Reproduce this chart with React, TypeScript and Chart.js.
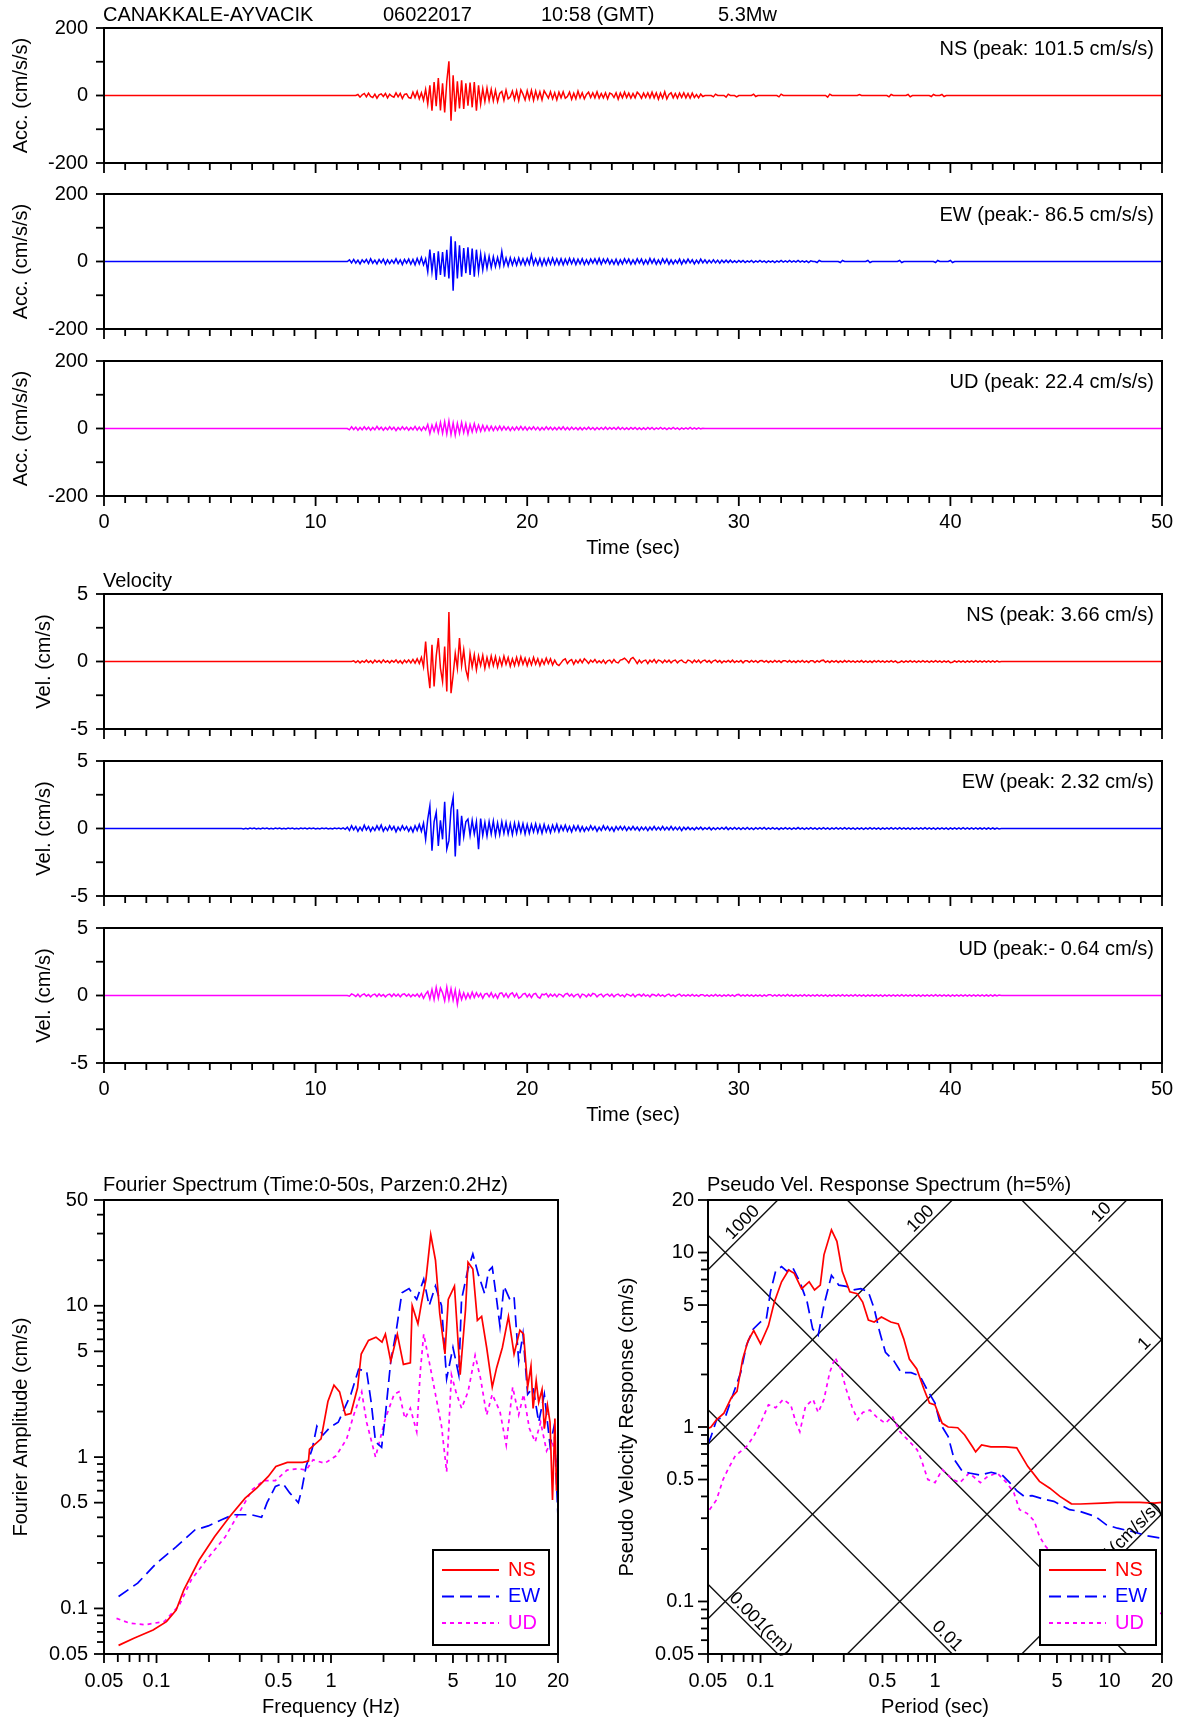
import React, { useEffect, useRef } from 'react';
import { Chart, registerables } from 'chart.js';

Chart.register(...registerables);

const FONT = '"Liberation Sans", Arial, Helvetica, sans-serif';
const INK = '#000000';
const RED = '#ff0000';
const BLUE = '#0000ff';
const MAGENTA = '#ff00ff';

// ---------------- time axis ----------------
const sampleStep = 0.1;
const timeTickLabels = [0, 10, 20, 30, 40, 50];
const timeMinorTicks = Array.from({ length: 49 }, (_, i) => i + 1).filter((t) => t % 10 !== 0);

// ---------------- acceleration (cm/s/s) ----------------
const accNsStart = 11.5;
const accNsValues = [
  0, 0, 0, 0, 0, 3, -5, 2, 6, -4,
  7, -3, -6, 4, -8, 2, 5, -3, 6, -7,
  4, -2, -5, 8, -4, 6, -9, 3, 5, -6,
  -8, 10, -6, 12, -10, 8, -14, 18, -25, 30,
  -45, 40, -32, 52, -44, 36, -50, 42, 101.5, -75,
  60, -48, 42, -38, 45, -40, 36, -30, 38, -35,
  40, -45, 30, -25, 20, -18, 22, -15, 18, -16,
  15, -18, 6, 12, -14, 16, -10, -4, 13, -12,
  14, -15, 17, 4, -13, 14, -11, 15, -14, 13,
  -10, 11, -13, 14, 3, -8, 11, -10, 8, -13,
  10, -7, 11, -8, -3, 10, -11, 7, -10, 13,
  -7, 8, -10, 3, 10, -6, 8, -7, 11, -8,
  6, -7, 8, -10, 7, 4, -6, 8, -11, 7,
  -7, 10, -6, 7, -8, 6, -7, 10, 3, -8,
  7, -6, 8, -7, 10, -7, 8, -11, 7, -8,
  11, -10, 3, 8, -7, 6, -8, 7, -6, 8,
  -7, 6, -8, 7, -6, 3, -7, 4, -3, 0,
  0, 0, 0, -4, 4, 0, 0, 0, 0, -5,
  4, 0, 0, 0, -4, 0, 0, 0, 0, 0,
  0, 0, 4, -3, 0, 0, 0, 0, 0, 0,
  0, 0, 0, 0, -4, 4, 0, 0, 0, 0,
  0, 0, 0, 0, 0, 0, 0, 0, 0, 0,
  0, 0, 0, 0, 0, 0, 0, -5, 4, 0,
  0, 0, 0, 0, 0, 0, 0, 0, 0, 0,
  0, 0, 3, 0, 0, 0, 0, 0, 0, 0,
  0, 0, 0, 0, 0, 0, -4, 3, 0, 0,
  0, 0, 0, 0, 0, 3, -4, 0, 0, 0,
  0, 0, 0, 0, 0, 0, -3, 3, 0, 0,
  0, 3, -3, 0, 0, 0, 0, 0, 0, 0,
];
const accEwStart = 11.5;
const accEwValues = [
  0, 5, -4, 6, -5, 4, -7, 5, -3, 6,
  -6, 8, -5, 4, -7, 6, -4, 7, -8, 5,
  -6, 4, -5, 8, -6, 5, -9, 6, -5, 7,
  -8, 6, -10, 9, -7, 12, -10, 8, -30, 35,
  -30, 25, -55, 30, -40, 28, -45, 35, -50, 75,
  -86.5, 60, -50, 48, -45, 40, -35, 42, -40, 38,
  -45, 35, -30, 22, -25, 18, -20, 15, -18, 14,
  -15, 12, -14, 30, -12, 10, -13, 11, -10, 9,
  -11, 10, -9, 8, -10, 9, -8, 20, -9, 8,
  -10, 9, -12, 8, -10, 9, -8, 10, -9, 8,
  -9, 8, -10, 7, -8, 9, -7, 8, -9, 7,
  -7, 8, -9, 5, -8, 7, -5, 8, -7, 9,
  -8, 7, -5, 8, -7, 5, -8, 7, -9, 5,
  -7, 8, -5, 7, -8, 5, -7, 8, -5, 7,
  -8, 5, -7, 9, -5, 7, -8, 5, -7, 8,
  -5, 7, -8, 5, -7, 4, -5, 7, -8, 5,
  -5, 7, -4, 5, -7, 4, -5, 7, -4, 5,
  -5, 4, -4, 5, -4, 4, -5, 4, -3, 4,
  -3, 4, -3, 2, -3, 3, -2, 3, -3, 2,
  -2, 3, -3, 2, -2, 3, -2, 2, -3, 2,
  -2, 2, -3, 2, -2, 3, -2, 2, -2, 3,
  -2, 2, -2, 3, -2, 2, -2, 2, -3, 2,
  0, 0, -3, 3, 0, 0, 0, 0, 0, 0,
  0, 0, 0, -3, 3, 0, 0, 0, 0, 0,
  0, 0, 0, 0, 0, 0, 3, -3, 0, 0,
  0, 0, 0, 0, 0, 0, 0, 0, 0, 0,
  0, 3, -3, 0, 0, 0, 0, 0, 0, 0,
  0, 0, 0, 0, 0, 0, 0, 0, -3, 3,
  0, 0, 0, 0, 0, 3, -3, 0, 0, 0,
];
const accUdStart = 11.5;
const accUdValues = [
  0, -4, 5, -3, 4, -5, 3, -4, 5, -3,
  4, -5, 3, -4, 6, -3, 4, -5, 3, -4,
  5, -3, 4, -6, 3, -4, 5, -3, 4, -5,
  3, -4, 6, -5, 4, -6, 5, -4, 12, -15,
  10, -8, 14, -12, 18, -14, 20, -16, 22.4, -18,
  16, -20, 15, -14, 18, -12, 14, -16, 12, -10,
  14, -9, 10, -8, 9, -7, 8, -6, 7, -6,
  6, -5, 7, -5, 6, -4, 5, -6, 4, -5,
  5, -4, 6, -4, 5, -5, 4, -3, 5, -4,
  4, -5, 3, -4, 5, -3, 4, -4, 3, -4,
  4, -3, 5, -4, 3, -4, 4, -3, 3, -4,
  3, -4, 3, -3, 4, -3, 3, -4, 3, -3,
  3, -3, 4, -3, 3, -2, 3, -3, 4, -3,
  3, -3, 2, -3, 3, -2, 3, -3, 2, -3,
  2, -3, 3, -2, 3, -3, 2, -2, 3, -2,
  2, -3, 2, -2, 3, -2, 2, -3, 2, -2,
  2, -2, 3, -2, 2, -2, 2, -1, 1, 0,
];

// ---------------- velocity (cm/s) ----------------
const velNsStart = 11.5;
const velNsValues = [
  0, 0, 0, 0.05, -0.08, 0.06, -0.1, 0.04, -0.06, 0.1,
  -0.08, 0.05, -0.12, 0.1, -0.05, 0.08, -0.1, 0.12, -0.06, 0.05,
  -0.1, 0.08, -0.05, 0.12, -0.1, 0.06, -0.14, 0.1, -0.08, 0.12,
  -0.1, 0.15, -0.12, 0.2, -0.15, 0.3, -0.4, 1.48, -0.6, -1.98,
  1.23, -1.85, 0.4, 1.73, -0.5, -1.48, 1.1, -2.22, 3.66, -2.35,
  -1.0, 0.6, -0.5, 1.73, -0.3, 0.86, -0.6, -1.23, 0.6, -0.4,
  0.5, -0.6, 0.4, -0.3, 0.45, -0.5, 0.3, -0.35, 0.4, -0.3,
  0.35, -0.4, 0.25, -0.3, 0.4, -0.2, 0.3, -0.35, 0.2, -0.3,
  0.3, -0.25, 0.35, -0.2, 0.25, -0.3, 0.2, -0.25, 0.3, -0.2,
  0.2, -0.3, 0.15, -0.2, 0.25, -0.15, 0.2, -0.25, 0.1, -0.2,
  -0.3, -0.1, 0.1, 0.2, -0.15, 0.05, 0.15, -0.2, 0.1, -0.1,
  0.15, -0.1, 0.2, 0.05, -0.15, 0.1, -0.05, 0.15, -0.1, 0.05,
  -0.1, 0.1, -0.15, 0.05, 0.1, -0.1, 0.15, -0.05, -0.1, 0.1,
  0.15, 0.25, 0.1, -0.1, 0.2, 0.3, 0.1, -0.15, 0.1, -0.1,
  0.05, 0.1, -0.15, 0.1, -0.05, 0.15, -0.1, 0.1, 0.05, -0.1,
  0.1, -0.05, 0.1, -0.1, 0.05, 0.1, -0.1, 0.05, 0.1, -0.05,
  -0.1, 0.1, 0.05, -0.1, 0.1, -0.05, 0.1, -0.1, 0.05, 0.1,
  -0.05, 0.08, -0.1, 0.05, 0.1, -0.05, 0.08, -0.1, 0.05, -0.05,
  0.08, -0.05, 0.1, -0.08, 0.05, -0.05, 0.08, -0.1, 0.05, 0.05,
  -0.06, 0.08, -0.05, 0.06, -0.08, 0.05, 0.07, -0.05, 0.06, -0.07,
  0.05, -0.06, 0.08, -0.05, 0.06, -0.07, 0.05, 0.06, -0.05, 0.07,
  -0.06, 0.05, -0.07, 0.06, -0.05, 0.08, -0.06, 0.05, -0.07, 0.06,
  0.05, -0.08, 0.06, -0.05, 0.07, 0.1, -0.06, 0.05, -0.07, 0.06,
  -0.05, 0.06, -0.07, 0.05, -0.06, 0.07, -0.05, 0.06, -0.05, 0.05,
  -0.06, 0.05, -0.05, 0.07, -0.06, 0.05, -0.06, 0.05, -0.07, 0.06,
  -0.05, 0.06, -0.05, 0.05, -0.06, 0.05, -0.05, 0.06, -0.05, 0.05,
  -0.08, -0.05, 0.05, -0.06, 0.05, -0.05, 0.06, -0.05, 0.05, -0.06,
  0.05, -0.05, 0.06, -0.05, 0.05, -0.06, 0.05, -0.05, 0.06, -0.05,
  0.05, -0.06, 0.05, -0.05, 0.05, -0.08, -0.05, 0.05, -0.05, 0.05,
  -0.05, 0.05, -0.06, 0.05, -0.05, 0.05, -0.05, 0.06, -0.05, 0.05,
  -0.05, 0.05, -0.05, 0.04, -0.05, 0.05, -0.04, 0.05, -0.03, 0,
];
const velEwStart = 6.5;
const velEwValues = [
  0, -0.03, 0.02, -0.04, 0.03, -0.02, 0.04, -0.03, 0.02, -0.03,
  0.04, -0.02, 0.03, -0.04, 0.02, -0.03, 0.03, -0.02, 0.04, -0.03,
  0.02, -0.04, 0.03, -0.02, 0.03, -0.04, 0.02, -0.03, 0.04, -0.02,
  0.03, -0.03, 0.04, -0.02, 0.03, -0.04, 0.02, -0.03, 0.03, -0.02,
  0.04, -0.03, 0.02, -0.04, 0.03, -0.02, 0.04, -0.03, 0.05, -0.06,
  0.1, -0.15, 0.2, -0.1, 0.15, -0.2, 0.1, -0.15, 0.25, -0.1,
  0.15, -0.2, 0.1, -0.15, 0.2, -0.1, 0.25, -0.2, 0.1, -0.15,
  0.2, -0.1, 0.15, -0.25, 0.1, -0.15, 0.2, -0.1, 0.15, -0.2,
  0.1, -0.25, 0.2, -0.15, 0.3, -0.2, 0.4, -0.8, 0.7, 1.68,
  -1.65, 0.5, 1.2, -1.3, 0.6, -0.8, 1.98, -1.53, -0.9, 1.43,
  2.3, -2.07, 1.43, -1.28, 0.94, -0.6, 0.5, 0.7, -0.5, 0.6,
  -0.4, 0.5, -1.53, 0.74, -0.5, 0.45, -0.55, 0.5, -0.4, 0.55,
  -0.5, 0.4, -0.45, 0.5, -0.35, 0.45, -0.4, 0.35, -0.45, 0.4,
  -0.35, 0.4, -0.3, 0.35, -0.4, 0.3, -0.35, 0.3, -0.25, 0.35,
  -0.3, 0.25, -0.35, 0.3, -0.25, 0.2, -0.3, 0.25, -0.2, 0.3,
  -0.25, 0.2, -0.15, 0.25, -0.2, 0.15, -0.25, 0.2, -0.15, 0.2,
  -0.2, 0.15, -0.2, 0.1, -0.15, 0.2, -0.1, 0.15, -0.2, 0.1,
  -0.15, 0.2, -0.1, 0.15, -0.15, 0.1, -0.2, 0.15, -0.1, 0.15,
  -0.1, 0.15, -0.15, 0.1, -0.1, 0.15, -0.1, 0.1, -0.15, 0.1,
  -0.1, 0.1, -0.15, 0.1, -0.1, 0.15, -0.1, 0.1, -0.1, 0.15,
  -0.1, 0.1, -0.1, 0.15, -0.1, 0.1, -0.1, 0.1, -0.15, 0.1,
  -0.08, 0.1, -0.08, 0.06, -0.1, 0.08, -0.06, 0.1, -0.08, 0.06,
  -0.06, 0.08, -0.1, 0.06, -0.08, 0.06, -0.06, 0.08, -0.06, 0.1,
  -0.08, 0.06, -0.06, 0.08, -0.06, 0.06, -0.08, 0.06, -0.06, 0.08,
  -0.06, 0.05, -0.08, 0.06, -0.05, 0.06, -0.05, 0.08, -0.06, 0.05,
  -0.05, 0.06, -0.05, 0.05, -0.07, 0.05, -0.05, 0.06, -0.05, 0.05,
  -0.06, 0.05, -0.05, 0.07, -0.05, 0.05, -0.06, 0.05, -0.05, 0.06,
  -0.05, 0.05, -0.06, 0.05, -0.05, 0.06, -0.05, 0.05, -0.06, 0.05,
  -0.05, 0.06, -0.05, 0.05, -0.05, 0.06, -0.05, 0.05, -0.05, 0.05,
  -0.06, 0.05, -0.05, 0.05, -0.06, 0.05, -0.05, 0.06, -0.05, 0.05,
  -0.05, 0.05, -0.06, 0.05, -0.05, 0.05, -0.05, 0.06, -0.05, 0.05,
  -0.05, 0.06, -0.05, 0.05, -0.05, 0.05, -0.06, 0.05, -0.05, 0.05,
  -0.05, 0.05, -0.05, 0.06, -0.05, 0.05, -0.05, 0.05, -0.06, 0.05,
  -0.05, 0.05, -0.05, 0.05, -0.06, 0.05, -0.05, 0.05, -0.05, 0.05,
  -0.05, 0.06, -0.05, 0.05, -0.05, 0.05, -0.05, 0.04, -0.05, 0.04,
  -0.04, 0.05, -0.04, 0.04, -0.05, 0.04, -0.04, 0.04, -0.03, 0,
];
const velUdStart = 11.5;
const velUdValues = [
  0, -0.05, 0.12, 0.05, -0.08, 0.1, -0.1, 0.05, 0.12, -0.05,
  0.08, -0.1, 0.05, 0.1, -0.08, 0.12, -0.05, 0.08, -0.1, 0.05,
  0.1, -0.08, 0.12, -0.05, 0.1, -0.1, 0.08, 0.12, -0.05, 0.1,
  -0.1, 0.08, -0.05, 0.12, -0.1, 0.15, -0.2, 0.1, 0.3, -0.25,
  0.45, -0.3, 0.6, -0.2, 0.55, 0.2, -0.4, 0.62, -0.3, 0.5,
  -0.35, 0.4, -0.64, 0.3, -0.3, 0.2, -0.25, 0.15, -0.2, 0.25,
  -0.15, 0.2, -0.1, 0.15, -0.2, 0.1, 0.15, -0.1, 0.2, -0.15,
  0.1, -0.2, 0.15, 0.2, -0.1, 0.15, -0.15, 0.1, 0.2, -0.1,
  0.15, -0.2, -0.1, 0.1, 0.15, -0.1, 0.1, -0.15, 0.1, 0.15,
  -0.1, -0.2, 0.1, 0.05, 0.15, -0.1, 0.1, -0.05, 0.1, -0.1,
  0.1, 0.05, -0.1, 0.1, 0.15, -0.05, 0.1, -0.1, 0.05, 0.1,
  -0.15, 0.1, 0.05, -0.1, 0.1, -0.05, 0.15, 0.1, -0.1, 0.05,
  0.1, -0.1, 0.05, 0.1, -0.05, 0.1, -0.1, 0.05, 0.1, -0.05,
  0.05, -0.1, 0.1, 0.05, -0.05, 0.1, -0.1, 0.05, 0.08, -0.05,
  0.1, -0.05, 0.05, -0.1, 0.08, 0.05, -0.05, 0.1, -0.05, 0.05,
  -0.08, 0.05, 0.1, -0.05, 0.05, -0.08, 0.05, 0.1, -0.05, 0.05,
  -0.05, 0.06, -0.05, 0.08, -0.05, 0.05, -0.06, 0.05, 0.06, -0.05,
  0.05, -0.06, 0.05, -0.05, 0.08, -0.05, 0.05, -0.06, 0.05, -0.05,
  0.06, -0.05, 0.05, -0.06, 0.05, 0.08, -0.05, 0.05, -0.05, 0.06,
  -0.05, 0.05, -0.06, 0.05, -0.05, 0.05, -0.06, 0.05, -0.05, 0.05,
  0.06, -0.05, 0.05, -0.05, 0.06, -0.05, 0.05, -0.05, 0.08, -0.05,
  0.05, -0.06, 0.05, -0.05, 0.05, -0.05, 0.06, -0.05, 0.05, -0.05,
  0.05, -0.05, 0.06, -0.05, 0.05, -0.05, 0.05, -0.06, 0.05, -0.05,
  0.05, -0.05, 0.05, -0.05, 0.06, -0.05, 0.05, -0.05, 0.05, -0.05,
  0.06, -0.05, 0.05, -0.05, 0.05, -0.06, 0.05, -0.05, 0.05, -0.05,
  0.05, -0.05, 0.05, -0.06, 0.05, -0.05, 0.05, -0.05, 0.05, -0.05,
  0.05, -0.05, 0.06, -0.05, 0.05, -0.05, 0.05, -0.05, 0.05, -0.05,
  0.05, -0.06, 0.05, -0.05, 0.05, -0.05, 0.05, -0.05, 0.06, -0.05,
  0.05, -0.05, 0.05, -0.05, 0.05, -0.06, 0.05, -0.05, 0.05, -0.05,
  0.05, -0.05, 0.05, -0.05, 0.05, -0.05, 0.05, -0.05, 0.04, -0.05,
  0.04, -0.05, 0.04, -0.04, 0.05, -0.04, 0.04, -0.04, 0.03, 0,
];

// ---------------- Fourier spectrum ----------------
const fourierTickLabels = [0.05, 0.1, 0.5, 1, 5, 10, 20];
const fourierAmpTickLabels = [0.05, 0.1, 0.5, 1, 5, 10, 50];
const fourierNsFreq = [0.0606, 0.0742, 0.0956, 0.114, 0.1296, 0.1434, 0.1756, 0.215, 0.263, 0.322, 0.375, 0.437, 0.483, 0.562, 0.689, 0.743, 0.753, 0.877, 0.96, 1.04, 1.12, 1.21, 1.3, 1.42, 1.49, 1.64, 1.81, 1.96, 2.05, 2.2, 2.4, 2.6, 2.85, 2.92, 3.15, 3.3, 3.5, 3.73, 3.97, 4.2, 4.5, 4.7, 5.1, 5.5, 5.9, 6.1, 6.5, 6.9, 7.3, 7.8, 8.4, 8.9, 9.6, 10.4, 11.2, 12.1, 12.7, 13.4, 14.0, 14.4, 15.0, 15.5, 16.2, 16.7, 17.4, 18.0, 18.6, 19.2, 19.6, 20];
const fourierNsAmp = [0.057, 0.0635, 0.072, 0.0818, 0.0977, 0.1325, 0.209, 0.298, 0.405, 0.536, 0.623, 0.745, 0.867, 0.922, 0.922, 0.94, 1.13, 1.32, 2.33, 2.99, 2.7, 1.9, 1.94, 2.87, 4.8, 5.9, 6.2, 5.75, 6.5, 4.3, 6.5, 4.1, 4.2, 10, 7.6, 10.4, 14.9, 29.5, 20, 8.9, 4.8, 11, 13.5, 3.5, 9.4, 19.4, 17.5, 8, 8.5, 5.3, 2.9, 3.9, 5.3, 8.5, 4.8, 6.9, 6.5, 2.9, 4.0, 2.1, 3.2, 2.3, 2.8, 1.54, 2.2, 1.7, 0.52, 1.8, 0.6, 0.9];
const fourierEwFreq = [0.0606, 0.078, 0.1, 0.13, 0.166, 0.198, 0.236, 0.274, 0.35, 0.4, 0.43, 0.48, 0.53, 0.58, 0.65, 0.68, 0.72, 0.78, 0.83, 0.9, 0.99, 1.1, 1.3, 1.44, 1.6, 1.7, 1.8, 1.95, 2.05, 2.2, 2.35, 2.55, 2.8, 3.1, 3.4, 3.65, 3.97, 4.3, 4.6, 5.0, 5.4, 5.6, 6.1, 6.5, 7, 7.6, 8, 8.4, 8.9, 9.3, 9.8, 10.6, 11.2, 11.9, 12.6, 13.4, 14.4, 15.5, 16.7, 18, 19, 20];
const fourierEwAmp = [0.12, 0.147, 0.199, 0.256, 0.33, 0.351, 0.385, 0.416, 0.416, 0.4, 0.5, 0.64, 0.67, 0.58, 0.5, 0.61, 0.87, 1.13, 1.6, 1.4, 1.58, 1.7, 2.6, 3.8, 3.7, 2.3, 1.26, 1.16, 1.9, 4.3, 6.5, 12.2, 13, 11, 15, 10, 13.5, 10, 3.3, 5.3, 3.5, 11, 17.5, 22, 16, 12, 17, 18, 11, 7.3, 13.5, 11, 11.5, 4.3, 6.5, 2.6, 2.9, 1.7, 2.6, 1.2, 1.6, 0.4];
const fourierUdFreq = [0.059, 0.07, 0.086, 0.111, 0.135, 0.158, 0.193, 0.248, 0.289, 0.354, 0.41, 0.48, 0.56, 0.65, 0.72, 0.79, 0.92, 1.07, 1.23, 1.35, 1.5, 1.6, 1.8, 2.05, 2.3, 2.45, 2.65, 2.85, 3.1, 3.25, 3.4, 3.65, 3.97, 4.3, 4.6, 4.9, 5.2, 5.6, 6.1, 6.7, 7.2, 7.8, 8.4, 9.3, 10.1, 11, 11.9, 12.7, 13.7, 14.8, 15.9, 17.2, 18.5, 20];
const fourierUdAmp = [0.086, 0.08, 0.078, 0.082, 0.105, 0.154, 0.209, 0.298, 0.405, 0.61, 0.7, 0.7, 0.82, 0.84, 0.82, 0.96, 0.91, 1.02, 1.32, 1.9, 2.7, 1.7, 1.0, 1.8, 2.6, 2.7, 1.8, 2.1, 1.47, 3.7, 6.5, 4.3, 2.6, 1.6, 0.8, 3.5, 2.7, 2.1, 2.7, 4.7, 3.3, 1.9, 2.6, 2.0, 1.2, 2.9, 1.9, 2.6, 1.55, 1.26, 1.7, 1.1, 1.3, 0.8];

// ---------------- pseudo velocity response spectrum ----------------
const periodTickLabels = [0.05, 0.1, 0.5, 1, 5, 10, 20];
const psvTickLabels = [0.05, 0.1, 0.5, 1, 5, 10, 20];
const psvNsPeriod = [0.05, 0.052, 0.0559, 0.0617, 0.068, 0.0733, 0.079, 0.0849, 0.0914, 0.1, 0.111, 0.12, 0.132, 0.145, 0.156, 0.172, 0.19, 0.204, 0.22, 0.231, 0.255, 0.274, 0.294, 0.325, 0.358, 0.385, 0.415, 0.448, 0.493, 0.558, 0.616, 0.662, 0.713, 0.786, 0.866, 0.93, 1.0, 1.1, 1.19, 1.35, 1.48, 1.64, 1.71, 1.85, 2.09, 2.54, 2.94, 3.4, 3.97, 4.55, 5.2, 6.05, 6.8, 9.1, 11, 14.9, 18, 20];
const psvNsValues = [0.98, 1.0, 1.1, 1.2, 1.47, 1.6, 2.45, 3.13, 3.57, 3.0, 3.8, 5.2, 6.8, 7.94, 7.6, 6.2, 6.8, 6.1, 6.5, 9.7, 13.5, 11.6, 7.8, 5.95, 5.8, 5.2, 4.1, 4.0, 4.27, 4.0, 3.9, 3.2, 2.45, 2.15, 1.64, 1.37, 1.34, 1.05, 1.0, 0.99, 0.9, 0.77, 0.72, 0.79, 0.77, 0.77, 0.76, 0.595, 0.488, 0.446, 0.4, 0.363, 0.362, 0.366, 0.37, 0.37, 0.366, 0.37];
const psvEwPeriod = [0.05, 0.052, 0.056, 0.063, 0.068, 0.077, 0.083, 0.091, 0.1, 0.108, 0.114, 0.122, 0.132, 0.142, 0.152, 0.168, 0.185, 0.199, 0.214, 0.231, 0.255, 0.281, 0.31, 0.341, 0.376, 0.415, 0.448, 0.482, 0.52, 0.58, 0.64, 0.73, 0.82, 0.9, 1.0, 1.07, 1.19, 1.29, 1.43, 1.57, 1.82, 2.1, 2.43, 2.68, 2.95, 3.25, 3.6, 4.2, 4.8, 5.9, 6.8, 8.3, 9.6, 11.1, 13.5, 16.4, 20];
const psvEwValues = [0.8, 0.88, 1.1, 1.15, 1.44, 2.05, 2.93, 3.65, 4.0, 4.17, 5.95, 7.8, 8.3, 7.8, 8.3, 6.8, 5.2, 3.65, 3.35, 5.0, 7.4, 6.5, 6.4, 6.1, 6.2, 5.95, 4.77, 3.5, 2.68, 2.4, 2.05, 2.05, 1.96, 1.64, 1.37, 1.05, 0.88, 0.65, 0.56, 0.545, 0.53, 0.55, 0.53, 0.48, 0.43, 0.4, 0.404, 0.386, 0.375, 0.336, 0.328, 0.307, 0.275, 0.263, 0.252, 0.238, 0.23];
const psvUdPeriod = [0.051, 0.056, 0.061, 0.065, 0.072, 0.075, 0.083, 0.091, 0.1, 0.111, 0.122, 0.135, 0.149, 0.16, 0.168, 0.181, 0.2, 0.214, 0.231, 0.249, 0.268, 0.288, 0.31, 0.334, 0.36, 0.385, 0.424, 0.467, 0.52, 0.57, 0.63, 0.71, 0.79, 0.83, 0.91, 1.0, 1.1, 1.26, 1.39, 1.57, 1.82, 2.0, 2.27, 2.57, 2.83, 3.05, 3.37, 3.7, 3.97, 4.3, 5.5, 8, 12, 16, 20];
const psvUdValues = [0.336, 0.383, 0.5, 0.57, 0.69, 0.71, 0.77, 0.88, 1.05, 1.34, 1.29, 1.44, 1.34, 1.05, 0.94, 1.31, 1.44, 1.21, 1.44, 2.05, 2.5, 2.15, 1.64, 1.31, 1.1, 1.21, 1.25, 1.13, 1.05, 1.15, 0.94, 0.83, 0.74, 0.66, 0.5, 0.48, 0.57, 0.5, 0.48, 0.545, 0.48, 0.52, 0.545, 0.48, 0.42, 0.336, 0.32, 0.29, 0.236, 0.207, 0.16, 0.12, 0.1, 0.092, 0.085];
// tripartite grid: constant spectral acceleration (cm/s/s) and displacement (cm)
const gridAccelerations = [0.1, 1, 10, 100, 1000];
const gridDisplacements = [0.001, 0.01, 0.1, 1, 10];
const gridLabels = [
  { kind: 'sa', value: 1000, at: 0.0859, text: '1000' },
  { kind: 'sa', value: 100, at: 0.9, text: '100' },
  { kind: 'sa', value: 10, at: 9.8, text: '10' },
  { kind: 'sa', value: 1, at: 17.3, text: '1' },
  { kind: 'sa', value: 0.1, at: 13.6, text: '0.1(cm/s/s)' },
  { kind: 'sd', value: 0.001, at: 0.092, text: '0.001(cm)' },
  { kind: 'sd', value: 0.01, at: 1.08, text: '0.01' },
];

const logMinorLow = [0.06, 0.07, 0.08, 0.09, 0.2, 0.3, 0.4, 0.6, 0.7, 0.8, 0.9, 2, 3, 4, 6, 7, 8, 9];

// ---------------- helpers ----------------
const tracePoints = (start: number, values: number[]) => [
  { x: 0, y: 0 },
  ...values.map((v, i) => ({ x: Math.round((start + i * sampleStep) * 100) / 100, y: v })),
  { x: 50, y: 0 },
];
const pairPoints = (xs: number[], ys: number[]) => xs.map((x, i) => ({ x, y: ys[i] }));

const font = (size = 20) => ({ family: FONT, size, weight: 'normal' as const });

function frameTicksPlugin(cfg: any) {
  return {
    id: 'frameTicks',
    afterDatasetsDraw(chart: any) {
      const { ctx, chartArea: a, scales } = chart;
      ctx.save();
      ctx.strokeStyle = INK;
      ctx.lineWidth = 2;
      ctx.strokeRect(a.left, a.top, a.right - a.left, a.bottom - a.top);
      ctx.lineWidth = 1.8;
      const xt = (vals: number[], len: number) =>
        vals.forEach((v) => {
          const p = scales.x.getPixelForValue(v);
          ctx.beginPath();
          ctx.moveTo(p, a.bottom);
          ctx.lineTo(p, a.bottom + len);
          ctx.stroke();
        });
      const yt = (vals: number[], len: number) =>
        vals.forEach((v) => {
          const p = scales.y.getPixelForValue(v);
          ctx.beginPath();
          ctx.moveTo(a.left, p);
          ctx.lineTo(a.left - len, p);
          ctx.stroke();
        });
      xt(cfg.xMajor, cfg.xMajorLen);
      xt(cfg.xMinor, cfg.xMinorLen);
      yt(cfg.yMajor, cfg.yMajorLen);
      yt(cfg.yMinor, cfg.yMinorLen);
      ctx.restore();
    },
  };
}

function legendPlugin(inset: number) {
  return {
    id: 'legendBox',
    afterDatasetsDraw(chart: any) {
      const { ctx, chartArea: a } = chart;
      const w = 116;
      const h = 95;
      const x = a.right - inset - w;
      const y = a.bottom - 9 - h;
      ctx.save();
      ctx.fillStyle = '#ffffff';
      ctx.fillRect(x, y, w, h);
      ctx.strokeStyle = INK;
      ctx.lineWidth = 2;
      ctx.strokeRect(x, y, w, h);
      chart.data.datasets.slice(0, 3).forEach((ds: any, i: number) => {
        const yy = y + 20 + i * 26.5;
        ctx.strokeStyle = ds.borderColor;
        ctx.lineWidth = 2;
        ctx.setLineDash(ds.borderDash || []);
        ctx.beginPath();
        ctx.moveTo(x + 9, yy);
        ctx.lineTo(x + 66, yy);
        ctx.stroke();
        ctx.setLineDash([]);
        ctx.fillStyle = ds.borderColor;
        ctx.font = `20px ${FONT}`;
        ctx.textBaseline = 'middle';
        ctx.textAlign = 'left';
        ctx.fillText(ds.label, x + 75, yy);
      });
      ctx.restore();
    },
  };
}

const gridLabelPlugin = {
  id: 'gridLabels',
  afterDatasetsDraw(chart: any) {
    const { ctx, scales } = chart;
    ctx.save();
    ctx.font = `18px ${FONT}`;
    ctx.fillStyle = INK;
    ctx.textAlign = 'center';
    ctx.textBaseline = 'middle';
    gridLabels.forEach((g) => {
      const sv = g.kind === 'sa' ? (g.value * g.at) / (2 * Math.PI) : (2 * Math.PI * g.value) / g.at;
      const px = scales.x.getPixelForValue(g.at);
      const py = scales.y.getPixelForValue(sv);
      const d = 9 / Math.SQRT2;
      const ox = g.kind === 'sa' ? -d : d;
      ctx.save();
      ctx.translate(px + ox, py - d);
      ctx.rotate(g.kind === 'sa' ? -Math.PI / 4 : Math.PI / 4);
      ctx.fillText(g.text, 0, 0);
      ctx.restore();
    });
    ctx.restore();
  },
};

// ---------------- layout ----------------
const PAGE_W = 1181;
const PLOT_L = 104;
const PLOT_R = 1162;
const TRACE_H = 135;
const PAD_T = 14;

const tracePanels = [
  { key: 'accNs', top: 28, start: accNsStart, values: accNsValues, color: RED, limit: 200, title: 'Acc. (cm/s/s)', titlePad: 9, showTime: false },
  { key: 'accEw', top: 194, start: accEwStart, values: accEwValues, color: BLUE, limit: 200, title: 'Acc. (cm/s/s)', titlePad: 9, showTime: false },
  { key: 'accUd', top: 361, start: accUdStart, values: accUdValues, color: MAGENTA, limit: 200, title: 'Acc. (cm/s/s)', titlePad: 9, showTime: true },
  { key: 'velNs', top: 594, start: velNsStart, values: velNsValues, color: RED, limit: 5, title: 'Vel. (cm/s)', titlePad: 32, showTime: false },
  { key: 'velEw', top: 761, start: velEwStart, values: velEwValues, color: BLUE, limit: 5, title: 'Vel. (cm/s)', titlePad: 32, showTime: false },
  { key: 'velUd', top: 928, start: velUdStart, values: velUdValues, color: MAGENTA, limit: 5, title: 'Vel. (cm/s)', titlePad: 32, showTime: true },
];

const texts = [
  { t: 'CANAKKALE-AYVACIK', x: 103, y: 14 },
  { t: '06022017', x: 383, y: 14 },
  { t: '10:58 (GMT)', x: 541, y: 14 },
  { t: '5.3Mw', x: 718, y: 14 },
  { t: 'Velocity', x: 103, y: 580 },
  { t: 'Fourier Spectrum (Time:0-50s, Parzen:0.2Hz)', x: 103, y: 1184 },
  { t: 'Pseudo Vel. Response Spectrum (h=5%)', x: 707, y: 1184 },
];
const peakTexts = [
  { t: 'NS (peak: 101.5 cm/s/s)', y: 48 },
  { t: 'EW (peak:- 86.5 cm/s/s)', y: 214 },
  { t: 'UD (peak: 22.4 cm/s/s)', y: 381 },
  { t: 'NS (peak: 3.66 cm/s)', y: 614 },
  { t: 'EW (peak: 2.32 cm/s)', y: 781 },
  { t: 'UD (peak:- 0.64 cm/s)', y: 948 },
];

const SPEC_TOP = 1200;
const SPEC_H = 454;
const SPEC_PAD_T = 40;
const SPEC_X_H = 70;

function traceChart(canvas: HTMLCanvasElement, p: any) {
  return new Chart(canvas, {
    type: 'line',
    data: {
      datasets: [
        {
          data: tracePoints(p.start, p.values),
          borderColor: p.color,
          borderWidth: 1.5,
          pointRadius: 0,
          tension: 0,
          fill: false,
        },
      ],
    },
    options: {
      responsive: false,
      maintainAspectRatio: false,
      animation: false,
      events: [],
      layout: { padding: { left: 0, right: PAGE_W - PLOT_R, top: PAD_T, bottom: 0 } },
      plugins: { legend: { display: false }, tooltip: { enabled: false } },
      scales: {
        x: {
          type: 'linear',
          min: 0,
          max: 50,
          afterBuildTicks: (s: any) => {
            s.ticks = timeTickLabels.map((v) => ({ value: v }));
          },
          afterFit: (s: any) => {
            s.height = p.showTime ? 70 : 14;
          },
          ticks: { display: p.showTime, autoSkip: false, maxRotation: 0, padding: 0, color: INK, font: font() },
          grid: { display: false, drawTicks: true, tickLength: 14 },
          border: { display: false },
          title: { display: p.showTime, text: 'Time (sec)', color: INK, font: font(), padding: { top: 0, bottom: 6 } },
        },
        y: {
          type: 'linear',
          min: -p.limit,
          max: p.limit,
          afterBuildTicks: (s: any) => {
            s.ticks = [p.limit, 0, -p.limit].map((v) => ({ value: v }));
          },
          afterFit: (s: any) => {
            s.width = PLOT_L;
          },
          ticks: { autoSkip: false, padding: 0, color: INK, font: font() },
          grid: { display: false, drawTicks: true, tickLength: 16 },
          border: { display: false },
          title: { display: true, text: p.title, color: INK, font: font(), padding: { top: p.titlePad, bottom: 0 } },
        },
      },
    } as any,
    plugins: [
      frameTicksPlugin({
        xMajor: timeTickLabels,
        xMinor: timeMinorTicks,
        yMajor: [p.limit, 0, -p.limit],
        yMinor: [p.limit / 2, -p.limit / 2],
        xMajorLen: 10,
        xMinorLen: 7,
        yMajorLen: 8,
        yMinorLen: 8,
      }),
    ],
  });
}

function spectrumChart(canvas: HTMLCanvasElement, o: any) {
  return new Chart(canvas, {
    type: 'line',
    data: { datasets: o.datasets },
    options: {
      responsive: false,
      maintainAspectRatio: false,
      animation: false,
      events: [],
      layout: { padding: { left: 0, right: o.padRight, top: SPEC_PAD_T, bottom: 0 } },
      plugins: { legend: { display: false }, tooltip: { enabled: false } },
      scales: {
        x: {
          type: 'logarithmic',
          min: 0.05,
          max: 20,
          afterBuildTicks: (s: any) => {
            s.ticks = o.xLabels.map((v: number) => ({ value: v }));
          },
          afterFit: (s: any) => {
            s.height = SPEC_X_H;
          },
          ticks: { autoSkip: false, maxRotation: 0, padding: 0, color: INK, font: font(), callback: (v: any) => String(v) },
          grid: { display: false, drawTicks: true, tickLength: 15 },
          border: { display: false },
          title: { display: true, text: o.xTitle, color: INK, font: font(), padding: { top: 0, bottom: 5 } },
        },
        y: {
          type: 'logarithmic',
          min: 0.05,
          max: o.yMax,
          afterBuildTicks: (s: any) => {
            s.ticks = o.yLabels.map((v: number) => ({ value: v }));
          },
          afterFit: (s: any) => {
            s.width = o.axisW;
          },
          ticks: { autoSkip: false, padding: 0, color: INK, font: font(), callback: (v: any) => String(v) },
          grid: { display: false, drawTicks: true, tickLength: o.tickPad },
          border: { display: false },
          title: { display: true, text: o.yTitle, color: INK, font: font(), padding: { top: o.titlePad, bottom: 0 } },
        },
      },
    } as any,
    plugins: o.plugins,
  });
}

const curve = (label: string, xs: number[], ys: number[], color: string, dash: number[]) => ({
  label,
  data: pairPoints(xs, ys),
  borderColor: color,
  borderWidth: 1.7,
  borderDash: dash,
  pointRadius: 0,
  tension: 0,
  fill: false,
});

export default function App() {
  const traceRefs = useRef<(HTMLCanvasElement | null)[]>([]);
  const fourierRef = useRef<HTMLCanvasElement | null>(null);
  const psvRef = useRef<HTMLCanvasElement | null>(null);

  useEffect(() => {
    document.body.style.margin = '0';
    const charts: Chart[] = [];
    tracePanels.forEach((p, i) => {
      const c = traceRefs.current[i];
      if (c) charts.push(traceChart(c, p));
    });
    if (fourierRef.current) {
      charts.push(
        spectrumChart(fourierRef.current, {
          datasets: [
            curve('NS', fourierNsFreq, fourierNsAmp, RED, []),
            curve('EW', fourierEwFreq, fourierEwAmp, BLUE, [12, 6]),
            curve('UD', fourierUdFreq, fourierUdAmp, MAGENTA, [4, 4]),
          ],
          padRight: 580 - 558,
          xLabels: fourierTickLabels,
          yLabels: fourierAmpTickLabels,
          yMax: 50,
          axisW: PLOT_L,
          tickPad: 16,
          titlePad: 9,
          xTitle: 'Frequency (Hz)',
          yTitle: 'Fourier Amplitude (cm/s)',
          plugins: [
            frameTicksPlugin({
              xMajor: fourierTickLabels,
              xMinor: logMinorLow,
              yMajor: fourierAmpTickLabels,
              yMinor: [...logMinorLow, 20, 30, 40],
              xMajorLen: 9,
              xMinorLen: 8,
              yMajorLen: 10,
              yMinorLen: 7,
            }),
            legendPlugin(9),
          ],
        })
      );
    }
    if (psvRef.current) {
      const saLines = gridAccelerations.map((sa) => ({
        data: [0.01, 100].map((t) => ({ x: t, y: (sa * t) / (2 * Math.PI) })),
        borderColor: '#111111',
        borderWidth: 1.4,
        pointRadius: 0,
        fill: false,
      }));
      const sdLines = gridDisplacements.map((sd) => ({
        data: [0.01, 100].map((t) => ({ x: t, y: (2 * Math.PI * sd) / t })),
        borderColor: '#111111',
        borderWidth: 1.4,
        pointRadius: 0,
        fill: false,
      }));
      charts.push(
        spectrumChart(psvRef.current, {
          datasets: [
            curve('NS', psvNsPeriod, psvNsValues, RED, []),
            curve('EW', psvEwPeriod, psvEwValues, BLUE, [12, 6]),
            curve('UD', psvUdPeriod, psvUdValues, MAGENTA, [4, 4]),
            ...saLines,
            ...sdLines,
          ],
          padRight: PAGE_W - PLOT_R,
          xLabels: periodTickLabels,
          yLabels: psvTickLabels,
          yMax: 20,
          axisW: 708 - 600,
          tickPad: 14,
          titlePad: 15,
          xTitle: 'Period (sec)',
          yTitle: 'Pseudo Velocity Response (cm/s)',
          plugins: [
            gridLabelPlugin,
            frameTicksPlugin({
              xMajor: periodTickLabels,
              xMinor: logMinorLow,
              yMajor: psvTickLabels,
              yMinor: logMinorLow,
              xMajorLen: 9,
              xMinorLen: 8,
              yMajorLen: 10,
              yMinorLen: 7,
            }),
            legendPlugin(6),
          ],
        })
      );
    }
    return () => charts.forEach((c) => c.destroy());
  }, []);

  const textStyle: React.CSSProperties = {
    position: 'absolute',
    height: 24,
    lineHeight: '24px',
    fontSize: 20,
    whiteSpace: 'nowrap',
    color: INK,
  };

  return (
    <div
      style={{
        position: 'relative',
        width: PAGE_W,
        height: 1722,
        background: '#ffffff',
        fontFamily: FONT,
        overflow: 'hidden',
      }}
    >
      {tracePanels.map((p, i) => (
        <canvas
          key={p.key}
          ref={(el) => {
            traceRefs.current[i] = el;
          }}
          width={PAGE_W}
          height={PAD_T + TRACE_H + (p.showTime ? 70 : 14)}
          style={{ position: 'absolute', left: 0, top: p.top - PAD_T }}
        />
      ))}
      <canvas
        ref={fourierRef}
        width={580}
        height={SPEC_PAD_T + SPEC_H + SPEC_X_H}
        style={{ position: 'absolute', left: 0, top: SPEC_TOP - SPEC_PAD_T }}
      />
      <canvas
        ref={psvRef}
        width={PAGE_W - 600}
        height={SPEC_PAD_T + SPEC_H + SPEC_X_H}
        style={{ position: 'absolute', left: 600, top: SPEC_TOP - SPEC_PAD_T }}
      />
      {texts.map((t) => (
        <div key={t.t} style={{ ...textStyle, left: t.x, top: t.y - 12 }}>
          {t.t}
        </div>
      ))}
      {peakTexts.map((t) => (
        <div key={t.t} style={{ ...textStyle, right: PAGE_W - 1154, top: t.y - 12 }}>
          {t.t}
        </div>
      ))}
    </div>
  );
}
